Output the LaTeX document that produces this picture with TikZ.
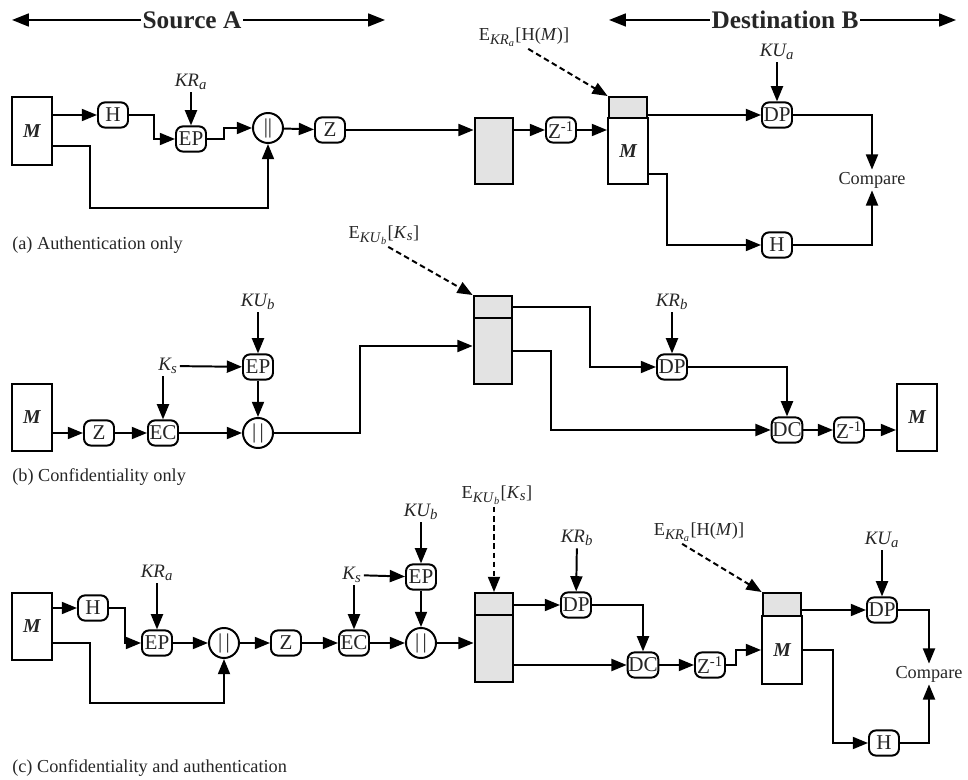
\documentclass[tikz,border=0pt]{standalone}
\usepackage{fontspec}
\setmainfont{Liberation Serif}
\usetikzlibrary{arrows.meta,positioning,calc}
\newcommand{\pgsb}[1]{\textsubscript{\fontsize{10.5}{12}\selectfont #1}}
\tikzset{
pgmsg/.style={rectangle,draw,line width=1.4pt,fill=white,minimum width=1cm,minimum height=1.68cm,inner sep=0pt,font=\fontsize{14}{16}\selectfont\bfseries\itshape},
pgop/.style={rectangle,rounded corners=5pt,draw,line width=1.4pt,fill=white,minimum width=0.75cm,minimum height=0.63cm,inner sep=0.5pt,font=\fontsize{15}{17}\selectfont},
pgcat/.style={circle,draw,line width=1.4pt,fill=white,minimum size=0.75cm,inner sep=0pt,font=\fontsize{15}{17}\selectfont},
pgsig/.style={rectangle,draw,line width=1.4pt,fill=gray!22,minimum width=0.97cm,minimum height=0.55cm,inner sep=0pt},
pggray/.style={rectangle,draw,line width=1.4pt,fill=gray!22,minimum width=0.97cm,minimum height=1.65cm,inner sep=0pt},
pgkey/.style={inner sep=1.5pt,font=\fontsize{13.5}{16}\selectfont\itshape},
pglabel/.style={inner sep=1.5pt},
pgcap/.style={anchor=west,inner sep=0pt},
pghead/.style={inner sep=1pt,font=\fontsize{18}{21}\selectfont\bfseries},
pgarr/.style={-{Triangle[length=3.8mm,width=3mm]},line width=1.4pt},
pgdash/.style={pgarr,dash pattern=on 4pt off 2.5pt},
pghdarr/.style={-{Triangle[length=4.2mm,width=3.2mm]},line width=1.4pt}
}
\begin{document}
\begin{tikzpicture}[
x=0.025cm,
y=-0.025cm,
every node/.style={font=\fontsize{13}{15}\selectfont,text=black!85}
]
\useasboundingbox (0,0) rectangle (968,780);
% headers
\node[pghead] (srcA) at (192,20) {Source A};
\coordinate (srcL) at (12,20);
\coordinate (srcR) at (385,20);
\node[pghead] (dstB) at (785,20) {Destination B};
\coordinate (dstL) at (609,20);
\coordinate (dstR) at (956,20);
\draw[pghdarr] (srcA) -- (srcL);
\draw[pghdarr] (srcA) -- (srcR);
\draw[pghdarr] (dstB) -- (dstL);
\draw[pghdarr] (dstB) -- (dstR);

% (a) authentication only
\node[pgmsg] (aM) at (32,131) {M};
\node[pgop] (aH) at (113,115) {H};
\node[pgop] (aEP) at (191,139) {EP};
\node[pgkey] (aKR) at (191,82) {KR\pgsb{a}};
\node[pgcat] (aCat) at (268,128) {||};
\node[pgop] (aZ) at (330,130) {Z};
\node[pggray] (aBox) at (494,151) {};
\node[pgop] (aZi) at (561,130) {Z\textsuperscript{-1}};
\node[pgsig,minimum height=0.525cm] (aSig) at (628,107.5) {};
\node[pgmsg,minimum height=1.65cm] (aMsg) at (628,151) {M};
\node[pglabel] (aE) at (524,37) {E\pgsb{\textit{KR}\textsubscript{\textit{a}}}[H(\textit{M})]};
\node[pgop] (aDP) at (777,115) {DP};
\node[pgkey] (aKU) at (777,52) {KU\pgsb{a}};
\node[pglabel] (aCmp) at (872,180) {Compare};
\node[pgop] (aH2) at (777,245) {H};
\node[pgcap] (capA) at (12,245) {(a) Authentication only};
\draw[pgarr] (aM.east |- aH) -- (aH);
\draw[pgarr] (aH.east) -- ++(25,0) |- (aEP.west);
\draw[pgarr] (aKR) -- (aEP);
\draw[pgarr] (aEP.east) -- ++(17,0) |- (aCat.west);
\draw[pgarr] ([yshift=-0.375cm]aM.east) -- ++(37,0) -- ++(0,62) -| (aCat.south);
\draw[pgarr] (aCat) -- (aZ);
\draw[pgarr] (aZ.east) -- (aZ.east -| aBox.west);
\draw[pgarr] (aZi -| aBox.east) -- (aZi);
\draw[pgarr] (aZi.east) -- (aZi.east -| aMsg.west);
\draw[pgdash] ([xshift=3pt]aE.south) -- (aSig.north west);
\draw[pgarr] (aSig.east |- aDP) -- (aDP);
\draw[pgarr] (aKU) -- (aDP);
\draw[pgarr] (aDP.east) -| (aCmp.north);
\draw[pgarr] ([yshift=-0.575cm]aMsg.east) -- ++(18,0) |- (aH2.west);
\draw[pgarr] (aH2.east) -| (aCmp.south);

% (b) confidentiality only
\node[pglabel] (bE) at (384,235) {E\pgsb{\textit{KU}\textsubscript{\textit{b}}}[\textit{K}\pgsb{\textit{s}}]};
\node[pgmsg] (bM) at (32,417.5) {M};
\node[pgop] (bZ) at (99,433) {Z};
\node[pgop] (bEC) at (163,433) {EC};
\node[pgkey] (bKs) at (168,366) {K\pgsb{s}};
\node[pgop] (bEP) at (258,367) {EP};
\node[pgkey] (bKU) at (258,302) {KU\pgsb{b}};
\node[pgcat] (bCat) at (258,433) {|\,|};
\node[pgsig] (bSig) at (493,307) {};
\node[pggray] (bBody) at (493,351) {};
\node[pgop] (bDP) at (672,367) {DP};
\node[pgkey] (bKR) at (672,302) {KR\pgsb{b}};
\node[pgop] (bDC) at (787,430) {DC};
\node[pgop] (bZi) at (849,430) {Z\textsuperscript{-1}};
\node[pgmsg] (bMo) at (917,417.5) {M};
\node[pgcap] (capB) at (12,477) {(b) Confidentiality only};
\draw[pgdash] ([xshift=3pt]bE.south) -- (bSig.north west);
\draw[pgarr] (bM.east |- bZ) -- (bZ);
\draw[pgarr] (bZ) -- (bEC);
\draw[pgarr] (bKs.south -| bEC) -- (bEC);
\draw[pgarr] (bKs) -- (bEP);
\draw[pgarr] (bKU) -- (bEP);
\draw[pgarr] (bEP) -- (bCat);
\draw[pgarr] (bEC) -- (bCat);
\draw[pgarr] (bCat.east) -- ++(86,0) |- ([yshift=0.125cm]bBody.west);
\draw[pgarr] (bSig.east) -- ++(77,0) |- (bDP.west);
\draw[pgarr] (bKR) -- (bDP);
\draw[pgarr] (bBody.east) -- ++(38,0) |- (bDC.west);
\draw[pgarr] (bDP.east) -| (bDC.north);
\draw[pgarr] (bDC) -- (bZi);
\draw[pgarr] (bZi.east) -- (bZi.east -| bMo.west);

% (c) confidentiality and authentication
\node[pgmsg] (cM) at (32,626.5) {M};
\node[pgop] (cH) at (93,608) {H};
\node[pgop] (cEP) at (157,643) {EP};
\node[pgkey] (cKRa) at (157,573) {KR\pgsb{a}};
\node[pgcat] (cCat) at (224,643) {|\,|};
\node[pgop] (cZ) at (286,643) {Z};
\node[pgop] (cEC) at (354,643) {EC};
\node[pgkey] (cKs) at (352,575) {K\pgsb{s}};
\node[pgop] (cEPb) at (421,577) {EP};
\node[pgkey] (cKU) at (421,512) {KU\pgsb{b}};
\node[pgcat] (cCatb) at (421,643) {|\,|};
\node[pgsig] (cSig) at (494,604) {};
\node[pggray,minimum height=1.68cm] (cBody) at (494,648.5) {};
\node[pglabel] (cEKs) at (497,495) {E\pgsb{\textit{KU}\textsubscript{\textit{b}}}[\textit{K}\pgsb{\textit{s}}]};
\node[pgop] (cDP) at (576,605) {DP};
\node[pgkey] (cKRb) at (577,538) {KR\pgsb{b}};
\node[pgop] (cDC) at (643,665) {DC};
\node[pgop] (cZi) at (710,665) {Z\textsuperscript{-1}};
\node[pglabel] (cEKR) at (699,532) {E\pgsb{\textit{KR}\textsubscript{\textit{a}}}[H(\textit{M})]};
\node[pgsig,minimum height=0.575cm] (cSig2) at (782,604.5) {};
\node[pgmsg] (cMsg) at (782,650) {M};
\node[pgop] (cDPb) at (882,610) {DP};
\node[pgkey] (cKUa) at (882,540) {KU\pgsb{a}};
\node[pglabel] (cCmp) at (929,674) {Compare};
\node[pgop] (cH2) at (884,743) {H};
\node[pgcap] (capC) at (12,768) {(c) Confidentiality and authentication};
\draw[pgarr] (cM.east |- cH) -- (cH);
\draw[pgarr] (cH.east) -- ++(16,0) |- (cEP.west);
\draw[pgarr] (cKRa) -- (cEP);
\draw[pgarr] (cEP) -- (cCat);
\draw[pgarr] (cM.east |- cCat) -- ++(37,0) -- ++(0,60) -| (cCat.south);
\draw[pgarr] (cCat) -- (cZ);
\draw[pgarr] (cZ) -- (cEC);
\draw[pgarr] (cKs.south -| cEC) -- (cEC);
\draw[pgarr] (cKs) -- (cEPb);
\draw[pgarr] (cKU) -- (cEPb);
\draw[pgarr] (cEPb) -- (cCatb);
\draw[pgarr] (cEC) -- (cCatb);
\draw[pgarr] (cCatb.east) -- (cCatb.east -| cBody.west);
\draw[pgdash] (cSig.north |- cEKs.south) -- (cSig.north);
\draw[pgarr] (cSig.east |- cDP) -- (cDP);
\draw[pgarr] (cKRb) -- (cDP);
\draw[pgarr] (cDP.east) -| (cDC.north);
\draw[pgarr] (cBody.east |- cDC) -- (cDC);
\draw[pgarr] (cDC) -- (cZi);
\draw[pgarr] (cZi.east) -- ++(10,0) |- (cMsg.west);
\draw[pgdash] ([xshift=-12pt]cEKR.south) -- (cSig2.north west);
\draw[pgarr] (cSig2.east |- cDPb) -- (cDPb);
\draw[pgarr] (cKUa) -- (cDPb);
\draw[pgarr] (cDPb.east) -| (cCmp.north);
\draw[pgarr] (cMsg.east) -- ++(30,0) |- (cH2.west);
\draw[pgarr] (cH2.east) -| (cCmp.south);
\end{tikzpicture}
\end{document}
